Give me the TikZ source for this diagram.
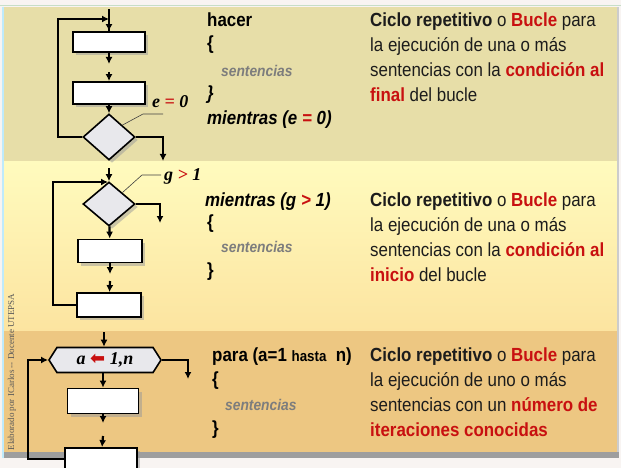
\documentclass[tikz,border=0pt]{standalone}
\usepackage{fontspec}
\setmainfont{Liberation Sans}[FakeStretch=0.89]
\newfontfamily\lblfont{Liberation Serif}
\newfontfamily\symfont{DejaVu Sans}
\usetikzlibrary{arrows.meta,shapes.geometric,shapes.symbols,shadows}
\definecolor{fondo}{RGB}{248,244,242}
\definecolor{panelA}{RGB}{231,222,168}
\definecolor{panelBtop}{RGB}{255,251,190}
\definecolor{panelBbot}{RGB}{252,228,160}
\definecolor{panelC}{RGB}{237,199,130}
\definecolor{rojo}{RGB}{200,16,16}
\definecolor{tinta}{RGB}{28,28,28}
\definecolor{gris}{RGB}{125,125,125}
\definecolor{rombo}{RGB}{232,232,236}
\tikzset{
  paso/.style={draw=black,line width=1.8pt,fill=white,minimum width=72pt,minimum height=22pt,inner sep=0pt,
    drop shadow={shadow xshift=3pt,shadow yshift=-3pt,fill=black!40,opacity=.5}},
  cond/.style={diamond,draw=black,line width=1.6pt,fill=rombo,minimum width=52pt,minimum height=46pt,inner sep=0pt,
    drop shadow={shadow xshift=3pt,shadow yshift=-3pt,fill=black!40,opacity=.5}},
  hexa/.style={signal,signal to=west and east,signal pointer angle=115,draw=black,line width=1.6pt,fill=rombo,
    minimum width=112pt,minimum height=25pt,inner sep=0pt,font=\lblfont\bfseries\itshape\fontsize{18}{20}\selectfont},
  flujo/.style={line width=2.2pt,-{Latex[length=7pt,width=7pt]}},
  guia/.style={line width=0.6pt,draw=black!75},
  etiq/.style={anchor=base west,inner sep=0pt,font=\lblfont\bfseries\itshape\fontsize{18}{20}\selectfont},
  txt/.style={anchor=base west,inner sep=0pt,text=tinta,font=\fontsize{19}{22}\selectfont},
  cod/.style={anchor=base west,inner sep=0pt,text=black,font=\bfseries\fontsize{19}{22}\selectfont},
  sent/.style={anchor=base west,inner sep=0pt,text=gris,font=\bfseries\itshape\fontsize{15.5}{18}\selectfont}
}
\begin{document}
\begin{tikzpicture}[x=1pt,y=-1pt]
\useasboundingbox (0,0) rectangle (621,468);
\fill[fondo] (0,0) rectangle (621,468);
\draw[green!25!gray!35,line width=1.2pt] (0,5.5) -- (621,5.5);
\fill[panelA] (3,7) rectangle (617,161);
\shade[top color=panelBtop,bottom color=panelBbot] (3,161) rectangle (617,331);
\fill[panelC] (3,331) rectangle (617,452);
\fill[black!38] (3,452) rectangle (619,458);
\fill[black!20] (617,7) rectangle (619,452);
\draw[cyan!25,line width=1.5pt] (3,7) -- (3,458);
\node[rotate=90,inner sep=0pt,text=black!65,font=\lblfont\fontsize{9}{10}\selectfont] (nota) at (12,372) {Elaborado por ICarlos -- Docente UTEPSA};

% hacer ... mientras
\node[paso,minimum height=20pt] (caja1) at (109,42) {};
\node[paso] (caja2) at (109,93) {};
\node[cond] (rombo1) at (109,137) {};
\coordinate (ent1) at (109,9);
\coordinate (vuelta1) at (58,19);
\coordinate (tope1) at (109,19);
\coordinate (hueco1a) at (109,64);
\coordinate (hueco1b) at (109,72);
\coordinate (sal1) at (163,161);
\coordinate (guia1a) at (143,114);
\coordinate (guia1b) at (163,114);
\node[etiq] (et1) at (152,108) {e {\color{rojo}=} 0};
\draw[line width=2.2pt] (ent1) -- (caja1);
\draw[flujo] (caja1) -- (hueco1a);
\draw[flujo] (hueco1b) -- (caja2);
\draw[flujo] (caja2) -- (rombo1);
\draw[flujo] (rombo1.west) -| (vuelta1) -- (tope1);
\draw[flujo] (tope1) -- (caja1);
\draw[flujo] (rombo1.east) -| (sal1);
\draw[guia] (rombo1.north east) -- (guia1a) -- (guia1b);

% mientras
\node[cond,minimum height=44pt] (rombo2) at (109,204) {};
\node[paso,minimum width=64pt,minimum height=23pt] (caja3) at (110,251) {};
\node[paso,minimum width=64pt,minimum height=24pt] (caja4) at (109,305) {};
\coordinate (ent2) at (109,168);
\coordinate (vuelta2) at (53,182);
\coordinate (tope2) at (108,182);
\coordinate (hueco2a) at (110,274);
\coordinate (hueco2b) at (110,281);
\coordinate (sal2) at (160,223);
\coordinate (guia2a) at (142,175);
\coordinate (guia2b) at (161,175);
\node[etiq] (et2) at (164,180) {g {\color{rojo}>} 1};
\draw[flujo] (ent2) -- (rombo2);
\draw[flujo] (caja4.west) -| (vuelta2) -- (tope2);
\draw[flujo] (rombo2.east) -| (sal2);
\draw[flujo] (rombo2) -- (caja3);
\draw[flujo] (caja3) -- (hueco2a);
\draw[flujo] (hueco2b) -- (caja4);
\draw[guia] (rombo2.north east) -- (guia2a) -- (guia2b);

% para
\node[hexa] (hexa) at (105,360) {a {\symfont\color{rojo}⬅} 1,n};
\node[paso,minimum width=71pt,minimum height=25pt] (caja5) at (103,401) {};
\node[paso,minimum height=22pt] (caja6) at (101,459) {};
\coordinate (ent3) at (104,332);
\coordinate (vuelta3) at (28,360);
\coordinate (sal3) at (188,379);
\coordinate (hueco3a) at (103,423);
\coordinate (hueco3b) at (103,436);
\draw[flujo] (ent3) -- (ent3 |- hexa.north);
\draw[flujo] (caja6.west) -| (vuelta3) -- (hexa.west);
\draw[flujo] (hexa.east) -| (sal3);
\draw[flujo] (hexa.south -| caja5) -- (caja5);
\draw[flujo] (caja5) -- (hueco3a);
\draw[flujo] (hueco3b) -- (caja6);

% codigo
\node[cod] (c1a) at (207,27) {hacer};
\node[cod] (c1b) at (207,50) {\{};
\node[sent] (c1c) at (221,77) {sentencias};
\node[cod,font=\bfseries\itshape\fontsize{19}{22}\selectfont] (c1d) at (207,100) {\}};
\node[cod,font=\bfseries\itshape\fontsize{19}{22}\selectfont] (c1e) at (207,125) {mientras (e {\color{rojo}=} 0)};
\node[cod,font=\bfseries\itshape\fontsize{19}{22}\selectfont] (c2a) at (205,206) {mientras (g {\color{rojo}>} 1)};
\node[cod] (c2b) at (207,228) {\{};
\node[sent] (c2c) at (221,252) {sentencias};
\node[cod] (c2d) at (207,276) {\}};
\node[cod] (c3a) at (212,361) {para (a=1 {\fontsize{15}{18}\selectfont hasta}\ \ n)};
\node[cod] (c3b) at (212,385) {\{};
\node[sent] (c3c) at (225,410) {sentencias};
\node[cod] (c3d) at (212,434) {\}};

% descripciones
\foreach \lin [count=\i] in {{\textbf{Ciclo repetitivo} o \textbf{\color{rojo}Bucle} para},{la ejecución de una o más},
  {sentencias con la \textbf{\color{rojo}condición al}},{\textbf{\color{rojo}final} del bucle}}
  \node[txt] (dA\i) at (370,{2+25*\i}) {\lin};
\foreach \lin [count=\i] in {{\textbf{Ciclo repetitivo} o \textbf{\color{rojo}Bucle} para},{la ejecución de una o más},
  {sentencias con la \textbf{\color{rojo}condición al}},{\textbf{\color{rojo}inicio} del bucle}}
  \node[txt] (dB\i) at (370,{181+25*\i}) {\lin};
\foreach \lin [count=\i] in {{\textbf{Ciclo repetitivo} o \textbf{\color{rojo}Bucle} para},{la ejecución de uno o más},
  {sentencias con un \textbf{\color{rojo}número de}},{\textbf{\color{rojo}iteraciones conocidas}}}
  \node[txt] (dC\i) at (370,{336+25*\i}) {\lin};
\end{tikzpicture}
\end{document}
